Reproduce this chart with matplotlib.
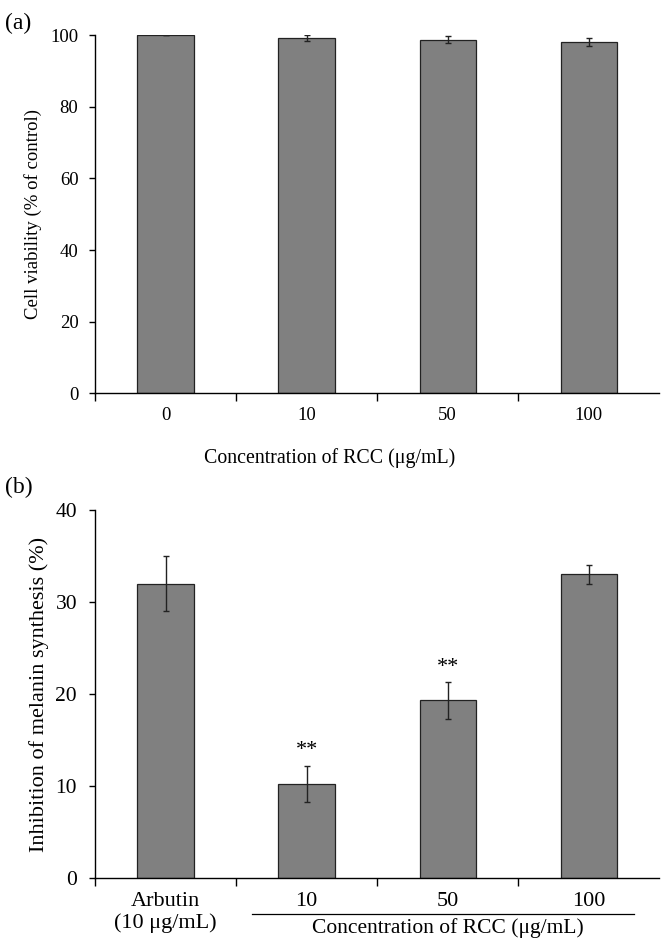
import numpy as np
import matplotlib.pyplot as plt

plt.rcParams['font.family'] = ['Liberation Serif', 'DejaVu Serif']

# panel (a): cell viability
via_labels = ['0', '10', '50', '100']
via_mean = [100.0, 99.2, 98.7, 98.1]
via_sd = [0.0, 0.8, 1.0, 1.0]

# panel (b): melanin synthesis inhibition
mel_labels = ['Arbutin\n(10 μg/mL)', '10', '50', '100']
mel_mean = [32.0, 10.2, 19.3, 33.0]
mel_sd = [3.0, 2.0, 2.0, 1.0]
mel_sig = ['', '**', '**', '']

bar_col = '#808080'

fig = plt.figure(figsize=(6.7, 9.5), dpi=100)
ax1 = fig.add_axes([0.142, 0.586, 0.842, 0.377])
ax2 = fig.add_axes([0.142, 0.076, 0.842, 0.387])


def draw_bars(ax, means, sds, ymax, step, fs_x, fs_y, ypad):
    x = np.arange(len(means))
    ax.bar(x, means, width=0.4, color=bar_col, edgecolor='#222222', linewidth=0.9,
           yerr=sds, capsize=2.2, error_kw=dict(elinewidth=1, capthick=1, ecolor='#222222'))
    ax.set_xlim(-0.5, len(means) - 0.5)
    ax.set_ylim(0, ymax)
    ax.set_yticks(np.arange(0, ymax + 1, step))
    # category boundary ticks (none at the right end)
    ax.set_xticks(np.arange(len(means)) - 0.5)
    ax.set_xticklabels([])
    ax.tick_params(axis='x', which='major', direction='out', length=6, width=1)
    ax.tick_params(axis='y', direction='out', length=4.5, width=1, labelsize=fs_y, pad=ypad)
    ax.set_xticks(x, minor=True)
    ax.tick_params(axis='x', which='minor', length=0, labelsize=fs_x, pad=10)
    for s in ['top', 'right']:
        ax.spines[s].set_visible(False)
    ax.spines['left'].set_linewidth(1)
    ax.spines['bottom'].set_linewidth(1)
    return x


x1 = draw_bars(ax1, via_mean, via_sd, 100, 20, 13.5, 13.5, 7.5)
ax1.set_xticklabels(via_labels, minor=True)
ax1.set_ylabel('Cell viability (% of control)', fontsize=13.5, labelpad=6)
ax1.text(0.416, -0.182, 'Concentration of RCC (μg/mL)', transform=ax1.transAxes,
         ha='center', va='center', fontsize=14.3)
fig.text(0.007, 0.975, '(a)', fontsize=17, ha='left', va='center')

x2 = draw_bars(ax2, mel_mean, mel_sd, 40, 10, 16, 15.5, 8.5)
ax2.set_xticklabels(mel_labels, minor=True, linespacing=1.15)
ax2.set_ylabel('Inhibition of melanin synthesis (%)', fontsize=16, labelpad=5)
for xi, m, s, t in zip(x2, mel_mean, mel_sd, mel_sig):
    if t:
        ax2.text(xi, m + s + 0.6, t, ha='center', va='bottom', fontsize=16)
ax2.plot([0.61, 3.32], [-0.098, -0.098], transform=ax2.get_xaxis_transform(),
         color='black', linewidth=0.9, clip_on=False)
ax2.text(2.0, -0.138, 'Concentration of RCC (μg/mL)', transform=ax2.get_xaxis_transform(),
         ha='center', va='center', fontsize=15.5)
fig.text(0.007, 0.487, '(b)', fontsize=17, ha='left', va='center')

fig.savefig('out.png', dpi=100)
